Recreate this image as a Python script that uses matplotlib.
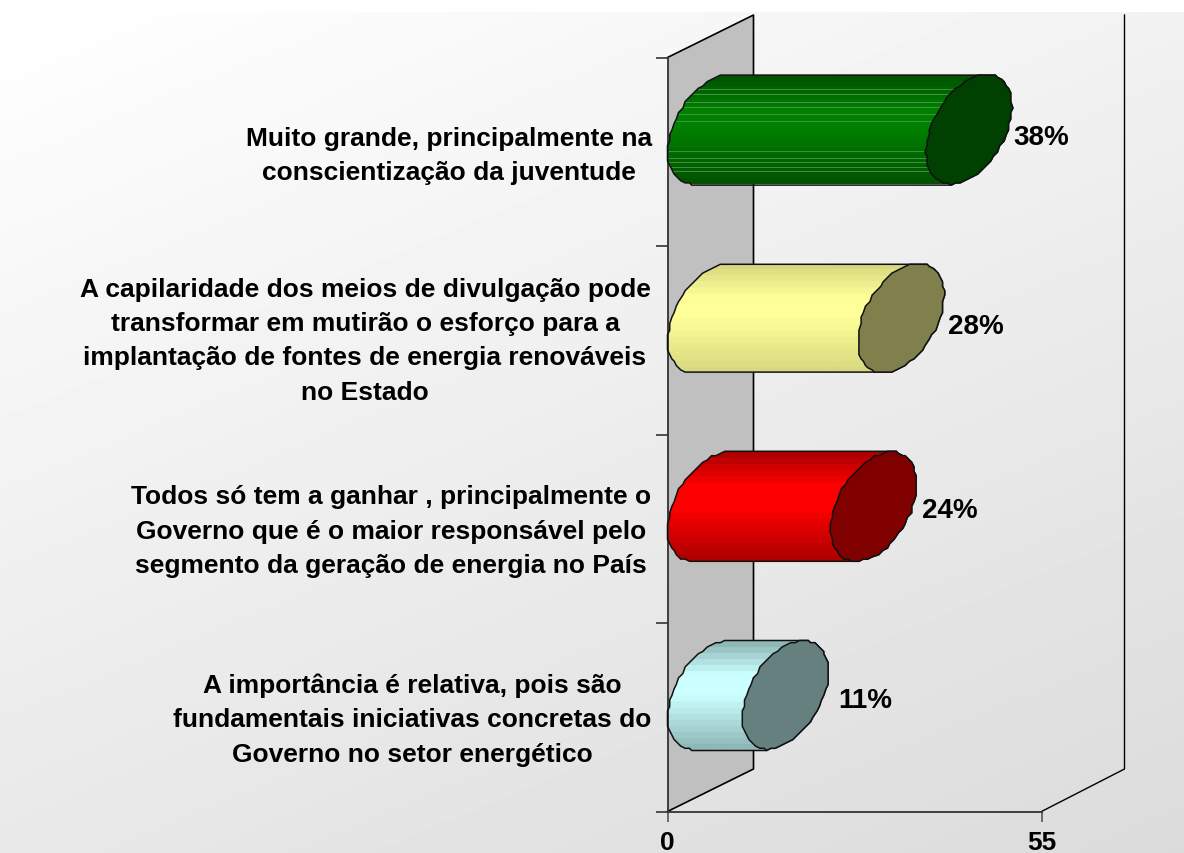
import numpy as np
import matplotlib
matplotlib.use("Agg")
import matplotlib.pyplot as plt
from matplotlib.patches import Polygon
from matplotlib.colors import LinearSegmentedColormap

categories = [
    "Muito grande, principalmente na\nconscientização da juventude",
    "A capilaridade dos meios de divulgação pode\ntransformar em mutirão o esforço para a\nimplantação de fontes de energia renováveis\nno Estado",
    "Todos só tem a ganhar , principalmente o\nGoverno que é o maior responsável pelo\nsegmento da geração de energia no País",
    "A importância é relativa, pois são\nfundamentais iniciativas concretas do\nGoverno no setor energético",
]
values = [38, 28, 24, 11]
value_labels = ["38%", "28%", "24%", "11%"]
x_ticks = [0, 55]
dark_colors = ["#005400", "#d8d880", "#b00000", "#8fb8b8"]
bright_colors = ["#008000", "#ffff99", "#ff0000", "#ccffff"]
cap_colors = ["#004000", "#80804d", "#800000", "#668080"]
label_x = [449, 365, 391, 412]
label_dy = [3, 0, 2, 2]
value_offset = [(115, -15), (118, -14), (119, -19), (123, -17)]

W, H = 1184, 854
plt.rcParams["font.family"] = ["Liberation Sans", "DejaVu Sans"]
fig = plt.figure(figsize=(W / 100, H / 100), dpi=100, facecolor="white")

L, R, T, B = 667.5, 1041.5, 58.5, 812.5
bg = fig.add_axes([0, 0, 1, (H - 13) / H], zorder=0)
bg.axis("off")
xx, yy = np.meshgrid(np.linspace(0, 1, 300), np.linspace(0, 1, 220))
bg.imshow(255 - 36 * (0.37 * xx + 0.63 * yy), cmap="gray", vmin=0, vmax=255, aspect="auto")

ax = fig.add_axes([L / W, 1 - B / H, (R - L) / W, (B - T) / H], zorder=1)
ax.patch.set_alpha(0)
ax.set_xlim(0, 55)
ax.set_ylim(len(values), 0)
px = 55 / (R - L)   # data units per pixel, x
py = len(values) / (B - T)
DX, DY = 86 * px, 42.5 * py
DX_BACK = 83 * px

for s in ("top", "right"):
    ax.spines[s].set_visible(False)
for s in ("left", "bottom"):
    ax.spines[s].set_color("#333333")
    ax.spines[s].set_linewidth(1.3)
ax.set_xticks(x_ticks)
ax.set_yticks(range(len(values) + 1))
ax.set_yticklabels([])
ax.tick_params(axis="y", length=8.5, width=1.2, color="#333333")
ax.tick_params(axis="x", length=7.5, width=1.2, color="#555555", labelsize=19, pad=6)
for t in ax.get_xticklabels():
    t.set_fontweight("bold")

# walls
n = len(values)
ax.add_patch(Polygon([(0, 0), (DX, -DY), (DX, n - DY), (0, n)], closed=True, fc="#c0c0c0",
                     ec="none", zorder=0.5, clip_on=False))
wall = dict(color="black", lw=1.2, clip_on=False, zorder=0.6)
ax.plot([0, DX, DX, 0], [0, -DY, n - DY, n], **wall)
ax.plot([55 + DX_BACK, 55 + DX_BACK, 55], [-DY, n - DY, n], color="black", lw=1.0, clip_on=False, zorder=0.6)


def ellipse(cx, cy, t):
    A, S, V = 39 * px, 18 * px, 54.5 * py
    x = cx + A * np.cos(t) + S * np.sin(t)
    y = cy - V * np.sin(t)
    # outline is slightly stepped, as in the reference
    gx, gy = 2.2 * px, 2.2 * py
    return np.c_[np.round(x / gx) * gx, np.round(y / gy) * gy]


for i, v in enumerate(values):
    cy = i + 0.5 - DY / 2 - 1 * py
    x0 = DX / 2
    x1 = x0 + v
    theta = np.linspace(0, 2 * np.pi, 61)[:-1]
    cap = ellipse(x1, cy, theta)
    half_l = ellipse(x0, cy, np.linspace(0.5 * np.pi, 1.5 * np.pi, 31))
    half_r = ellipse(x1, cy, np.linspace(1.5 * np.pi, 2.5 * np.pi, 31))
    outline = np.r_[half_l, half_r]
    body = Polygon(outline, closed=True, fc="none", ec="#111111", lw=1.1, zorder=3, clip_on=False)
    cmap = LinearSegmentedColormap.from_list(
        "c", [(0, dark_colors[i]), (0.3, bright_colors[i]), (0.5, bright_colors[i]), (1, dark_colors[i])], N=18)
    grad = np.linspace(0, 1, 108)[:, None]
    im = ax.imshow(grad, cmap=cmap, aspect="auto", zorder=2,
                   extent=(0, x1 + DX, cy + 54.5 * py, cy - 54.5 * py))
    ax.add_patch(body)
    clip = Polygon(outline, closed=True, transform=ax.transData)
    im.set_clip_path(clip)
    if i == 0:
        for frac in (0.13, 0.17, 0.25, 0.29, 0.36, 0.42, 0.7, 0.76, 0.8, 0.84, 0.88):
            ln = ax.plot([0, x1 + DX], [cy - 54.5 * py + frac * 109 * py] * 2,
                         color="#60a060", lw=0.7, alpha=0.7, zorder=2.2)[0]
            ln.set_clip_path(clip)
    ax.add_patch(Polygon(cap, closed=True, fc=cap_colors[i], ec="#111111", lw=1.1, zorder=4, clip_on=False))
    ax.text((label_x[i] - L) * px, i + 0.5 + label_dy[i] * py, categories[i], ha="center", va="center",
            fontsize=19, fontweight="bold", linespacing=1.55, color="black", clip_on=False, zorder=5)
    ox, oy = value_offset[i]
    ax.text(v + ox * px, i + 0.5 + oy * py, value_labels[i], ha="center", va="center",
            fontsize=20, fontweight="bold", color="black", zorder=5, clip_on=False)

ax.set_xlim(0, 55)
ax.set_ylim(len(values), 0)
fig.savefig("out.png", dpi=100, facecolor="white")
